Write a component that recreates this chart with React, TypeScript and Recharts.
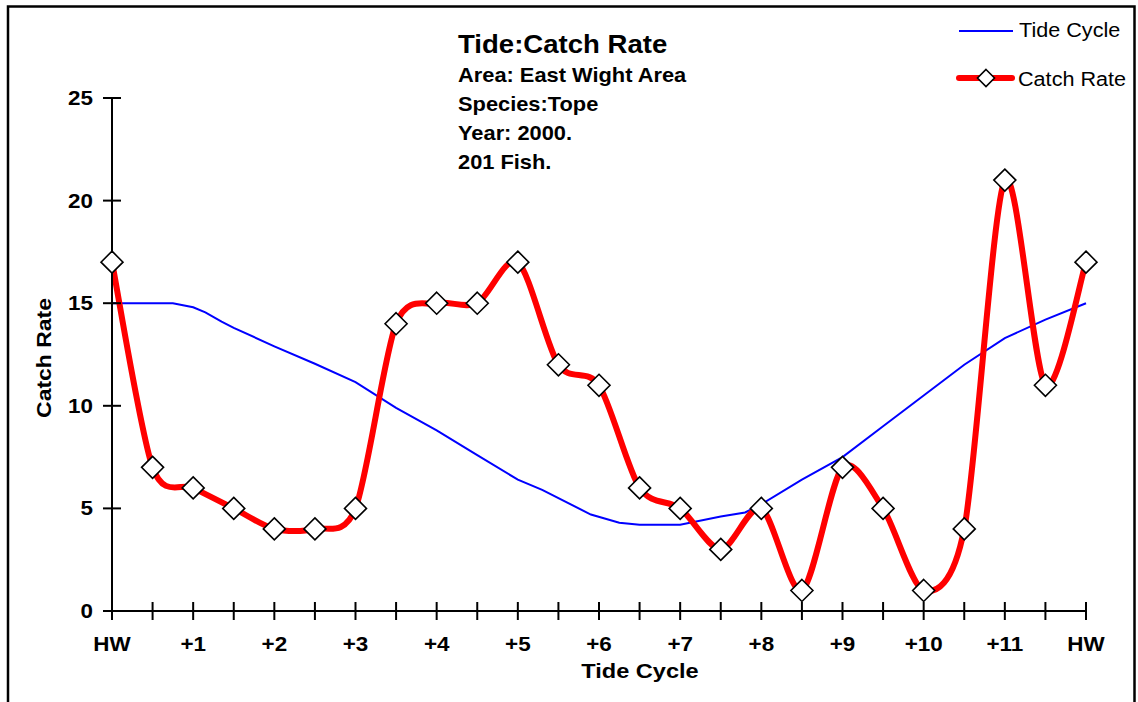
import React from 'react';
import { LineChart, Line, XAxis, YAxis, Customized } from 'recharts';

// ---- data ----
const catchHours = [0, 0.5, 1, 1.5, 2, 2.5, 3, 3.5, 4, 4.5, 5, 5.5, 6, 6.5, 7, 7.5, 8, 8.5, 9, 9.5, 10, 10.5, 11, 11.5, 12];
const catchRate = [17, 7, 6, 5, 4, 4, 5, 14, 15, 15, 17, 12, 11, 6, 5, 3, 5, 1, 7, 5, 1, 4, 21, 11, 17];

const tideHours = [0, 0.75, 1, 1.15, 1.35, 1.5, 2, 2.5, 3, 3.5, 4, 4.5, 5, 5.3, 5.9, 6.25, 6.5, 7, 7.5, 7.8, 8, 8.5, 9, 9.5, 10, 10.5, 11, 11.5, 12];
const tideLevel = [15, 15, 14.8, 14.55, 14.1, 13.8, 12.9, 12.05, 11.15, 9.9, 8.8, 7.6, 6.4, 5.9, 4.7, 4.3, 4.2, 4.2, 4.6, 4.8, 5.2, 6.4, 7.5, 9, 10.5, 12, 13.3, 14.2, 15];

const xTickValues = [0, 0.5, 1, 1.5, 2, 2.5, 3, 3.5, 4, 4.5, 5, 5.5, 6, 6.5, 7, 7.5, 8, 8.5, 9, 9.5, 10, 10.5, 11, 11.5, 12];
const xTickLabels = ['HW', '', '+1', '', '+2', '', '+3', '', '+4', '', '+5', '', '+6', '', '+7', '', '+8', '', '+9', '', '+10', '', '+11', '', 'HW'];
const yTicks = [0, 5, 10, 15, 20, 25];

const titleText = 'Tide:Catch Rate';
const subtitleLines = ['Area: East Wight Area', 'Species:Tope', 'Year: 2000.', '201 Fish.'];
const seriesNames = ['Tide Cycle', 'Catch Rate'];
const xAxisTitle = 'Tide Cycle';
const yAxisTitle = 'Catch Rate';

const catchData = catchHours.map((x, i) => ({ x, catchRate: catchRate[i] }));
const tideData = tideHours.map((x, i) => ({ x, tide: tideLevel[i] }));

const FONT = 'Arial, "Liberation Sans", Helvetica, sans-serif';

// Excel-like smoothed curve (Bezier through points)
function excelSmooth(context: any) {
  let pts: number[][] = [];
  const k = 1 / 7;
  return {
    areaStart() {},
    areaEnd() {},
    lineStart() {
      pts = [];
    },
    point(x: number, y: number) {
      pts.push([+x, +y]);
    },
    lineEnd() {
      const n = pts.length;
      if (!n) return;
      context.moveTo(pts[0][0], pts[0][1]);
      for (let i = 0; i < n - 1; i++) {
        const p0 = pts[i > 0 ? i - 1 : i];
        const p1 = pts[i];
        const p2 = pts[i + 1];
        const p3 = pts[i + 2 < n ? i + 2 : i + 1];
        context.bezierCurveTo(
          p1[0] + (p2[0] - p0[0]) * k,
          p1[1] + (p2[1] - p0[1]) * k,
          p2[0] - (p3[0] - p1[0]) * k,
          p2[1] - (p3[1] - p1[1]) * k,
          p2[0],
          p2[1]
        );
      }
    },
  };
}

const SText = ({ x, y, sx = 1, rotate = 0, size, bold = true, anchor = 'start', children }: any) => (
  <text
    transform={`translate(${x},${y})${rotate ? ` rotate(${rotate})` : ''} scale(${sx},1)`}
    fontFamily={FONT}
    fontSize={size}
    fontWeight={bold ? 'bold' : 'normal'}
    textAnchor={anchor}
    fill="#000"
  >
    {children}
  </text>
);

const XTick = (props: any) => {
  const { x, y, payload } = props;
  const idx = xTickValues.indexOf(payload.value);
  const label = idx >= 0 ? xTickLabels[idx] : '';
  return (
    <g>
      <line x1={x} x2={x} y1={y - 18} y2={y} stroke="#000" strokeWidth={2} />
      {label ? (
        <SText x={x} y={y + 31} sx={1.15} size={19.5} anchor="middle">
          {label}
        </SText>
      ) : null}
    </g>
  );
};

const YTick = (props: any) => {
  const { x, y, payload } = props;
  return (
    <g>
      <line x1={x} x2={x + 18} y1={y} y2={y} stroke="#000" strokeWidth={2} />
      <SText x={x - 10} y={y + 7} sx={1.15} size={19.5} anchor="end">
        {String(payload.value)}
      </SText>
    </g>
  );
};

const Diamond = ({ cx, cy, r }: any) => (
  <path
    d={`M${cx},${cy - r}L${cx + r},${cy}L${cx},${cy + r}L${cx - r},${cy}Z`}
    fill="#fff"
    stroke="#000"
    strokeWidth={1.6}
  />
);

const renderDot = (props: any) => {
  const { cx, cy, index } = props;
  if (cx == null || cy == null) return <g key={`e-${index}`} />;
  return <Diamond key={`d-${index}`} cx={cx} cy={cy} r={11} />;
};

const Overlay = () => (
  <g>
    {/* outer frame */}
    <path d="M8,702 L8,6.5 L1134.5,6.5 L1134.5,702" fill="none" stroke="#000" strokeWidth={2.5} />
    {/* titles */}
    <SText x={458} y={53} sx={1.06} size={26}>
      {titleText}
    </SText>
    {subtitleLines.map((t, i) => (
      <SText key={t} x={458} y={82 + i * 29} sx={1.12} size={19.5}>
        {t}
      </SText>
    ))}
    {/* legend */}
    <line x1={959} x2={1013} y1={31} y2={31} stroke="#0000FF" strokeWidth={2} />
    <SText x={1019} y={37} sx={1.03} size={21} bold={false}>
      {seriesNames[0]}
    </SText>
    <line x1={959} x2={1012} y1={78} y2={78} stroke="#FF0000" strokeWidth={6} strokeLinecap="round" />
    <Diamond cx={986} cy={78} r={8.5} />
    <SText x={1018} y={86} sx={1.03} size={21} bold={false}>
      {seriesNames[1]}
    </SText>
    {/* axis titles */}
    <SText x={640} y={678} sx={1.15} size={20.5} anchor="middle">
      {xAxisTitle}
    </SText>
    <SText x={51} y={358} sx={1.12} size={20.5} anchor="middle" rotate={-90}>
      {yAxisTitle}
    </SText>
  </g>
);

export default function App() {
  return (
    <div style={{ width: 1138, height: 702, position: 'relative', background: '#fff' }}>
      <style>{`html,body{margin:0;padding:0;overflow:hidden;background:#fff}`}</style>
      <LineChart width={1138} height={702} margin={{ top: 98, right: 52, bottom: 0, left: 0 }}>
        <XAxis
          type="number"
          dataKey="x"
          domain={[0, 12]}
          ticks={xTickValues}
          interval={0}
          height={91}
          tickSize={9}
          tickMargin={0}
          tickLine={false}
          axisLine={{ stroke: '#000', strokeWidth: 2 }}
          tick={<XTick />}
        />
        <YAxis
          type="number"
          domain={[0, 25]}
          ticks={yTicks}
          interval={0}
          width={112}
          tickSize={9}
          tickMargin={0}
          tickLine={false}
          axisLine={{ stroke: '#000', strokeWidth: 2 }}
          tick={<YTick />}
        />
        <Line
          data={tideData}
          dataKey="tide"
          name={seriesNames[0]}
          type="linear"
          stroke="#0000FF"
          strokeWidth={2}
          dot={false}
          activeDot={false}
          isAnimationActive={false}
        />
        <Line
          data={catchData}
          dataKey="catchRate"
          name={seriesNames[1]}
          type={excelSmooth as any}
          stroke="#FF0000"
          strokeWidth={6}
          strokeLinejoin="round"
          dot={renderDot}
          activeDot={false}
          isAnimationActive={false}
        />
        <Customized component={<Overlay />} />
      </LineChart>
    </div>
  );
}
